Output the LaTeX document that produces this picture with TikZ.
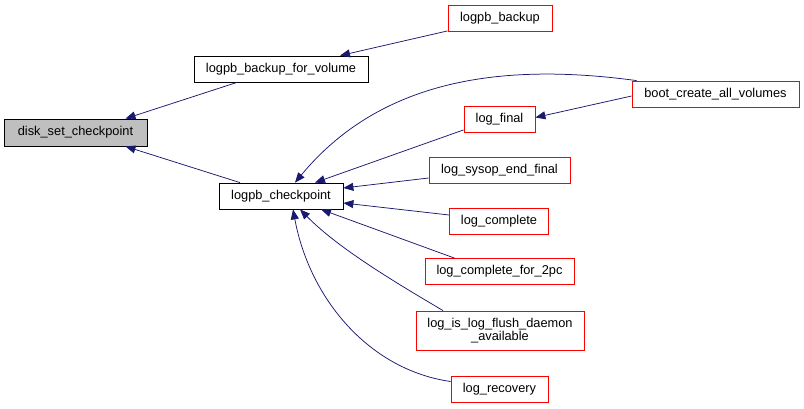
\documentclass[tikz,border=0pt]{standalone}
\usepackage{fontspec}
\setmainfont{Liberation Sans}
\usetikzlibrary{arrows.meta}
\definecolor{CallNavy}{HTML}{191970}
\definecolor{CallRed}{HTML}{FF0000}
\definecolor{HereGray}{HTML}{BFBFBF}

\begin{document}
\begin{tikzpicture}[x=1pt,y=-1pt, every node/.style={font=\fontsize{12.8}{13.5}\selectfont},
    fnbox/.style={draw=black, line width=0.8pt, fill=white, inner sep=0pt, minimum height=26pt, align=center},
    fnhere/.style={fnbox, fill=HereGray},
    fncaller/.style={fnbox, draw=CallRed},
    callarrow/.style={-{Triangle[length=10pt,width=8pt]}, CallNavy, line width=0.75pt}]
    \path[use as bounding box] (0,0) rectangle (804,408);

    \node[fnhere, minimum width=143pt, minimum height=27pt] (disk) at (75.5,132.5) {disk\_set\_checkpoint};
    \node[fnbox, minimum width=174pt] (backupvol) at (281,69) {logpb\_backup\_for\_volume};
    \node[fnbox, minimum width=124pt] (ckpt) at (281,196) {logpb\_checkpoint};

    \node[fncaller, minimum width=104pt] (backup) at (500,18.5) {logpb\_backup};
    \node[fncaller, minimum width=167pt] (boot) at (715.5,94) {boot\_create\_all\_volumes};
    \node[fncaller, minimum width=71pt] (final) at (499.5,119.5) {log\_final};
    \node[fncaller, minimum width=141pt] (sysop) at (499.5,170.5) {log\_sysop\_end\_final};
    \node[fncaller, minimum width=99pt] (complete) at (499,221) {log\_complete};
    \node[fncaller, minimum width=149pt] (twopc) at (499.5,271.5) {log\_complete\_for\_2pc};
    \node[fncaller, minimum width=168pt, minimum height=39pt] (flush) at (500,330.5) {log\_is\_log\_flush\_daemon\\\_available};
    \node[fncaller, minimum width=97pt] (recovery) at (499.5,389.5) {log\_recovery};

    \draw[callarrow] ([xshift=-44pt]backupvol.south) -- ([xshift=50pt]disk.north);
    \draw[callarrow] ([xshift=-41pt]ckpt.north) -- ([xshift=50pt]disk.south);
    \draw[callarrow] ([yshift=1pt]backup.south west) -- ([xshift=59pt]backupvol.north);
    \draw[callarrow] ([xshift=5pt]boot.north west) .. controls (500,62) and (380,80) .. ([xshift=14pt]ckpt.north);
    \draw[callarrow] ([yshift=-2pt]boot.west) -- ([yshift=2pt]final.east);
    \draw[callarrow] ([yshift=3pt]final.south west) -- ([xshift=34pt]ckpt.north);
    \draw[callarrow] ([yshift=-7.5pt]sysop.west) -- ([yshift=8pt]ckpt.east);
    \draw[callarrow] ([yshift=6pt]complete.west) -- ([yshift=-7pt]ckpt.east);
    \draw[callarrow] ([xshift=-45pt]twopc.north) -- ([xshift=40pt]ckpt.south);
    \draw[callarrow] ([xshift=-57pt]flush.north) .. controls (400,285) and (340,250) .. ([xshift=19pt]ckpt.south);
    \draw[callarrow] ([yshift=8pt]recovery.west) .. controls (370,370) and (310,300) .. ([xshift=12pt]ckpt.south);
\end{tikzpicture}
\end{document}
